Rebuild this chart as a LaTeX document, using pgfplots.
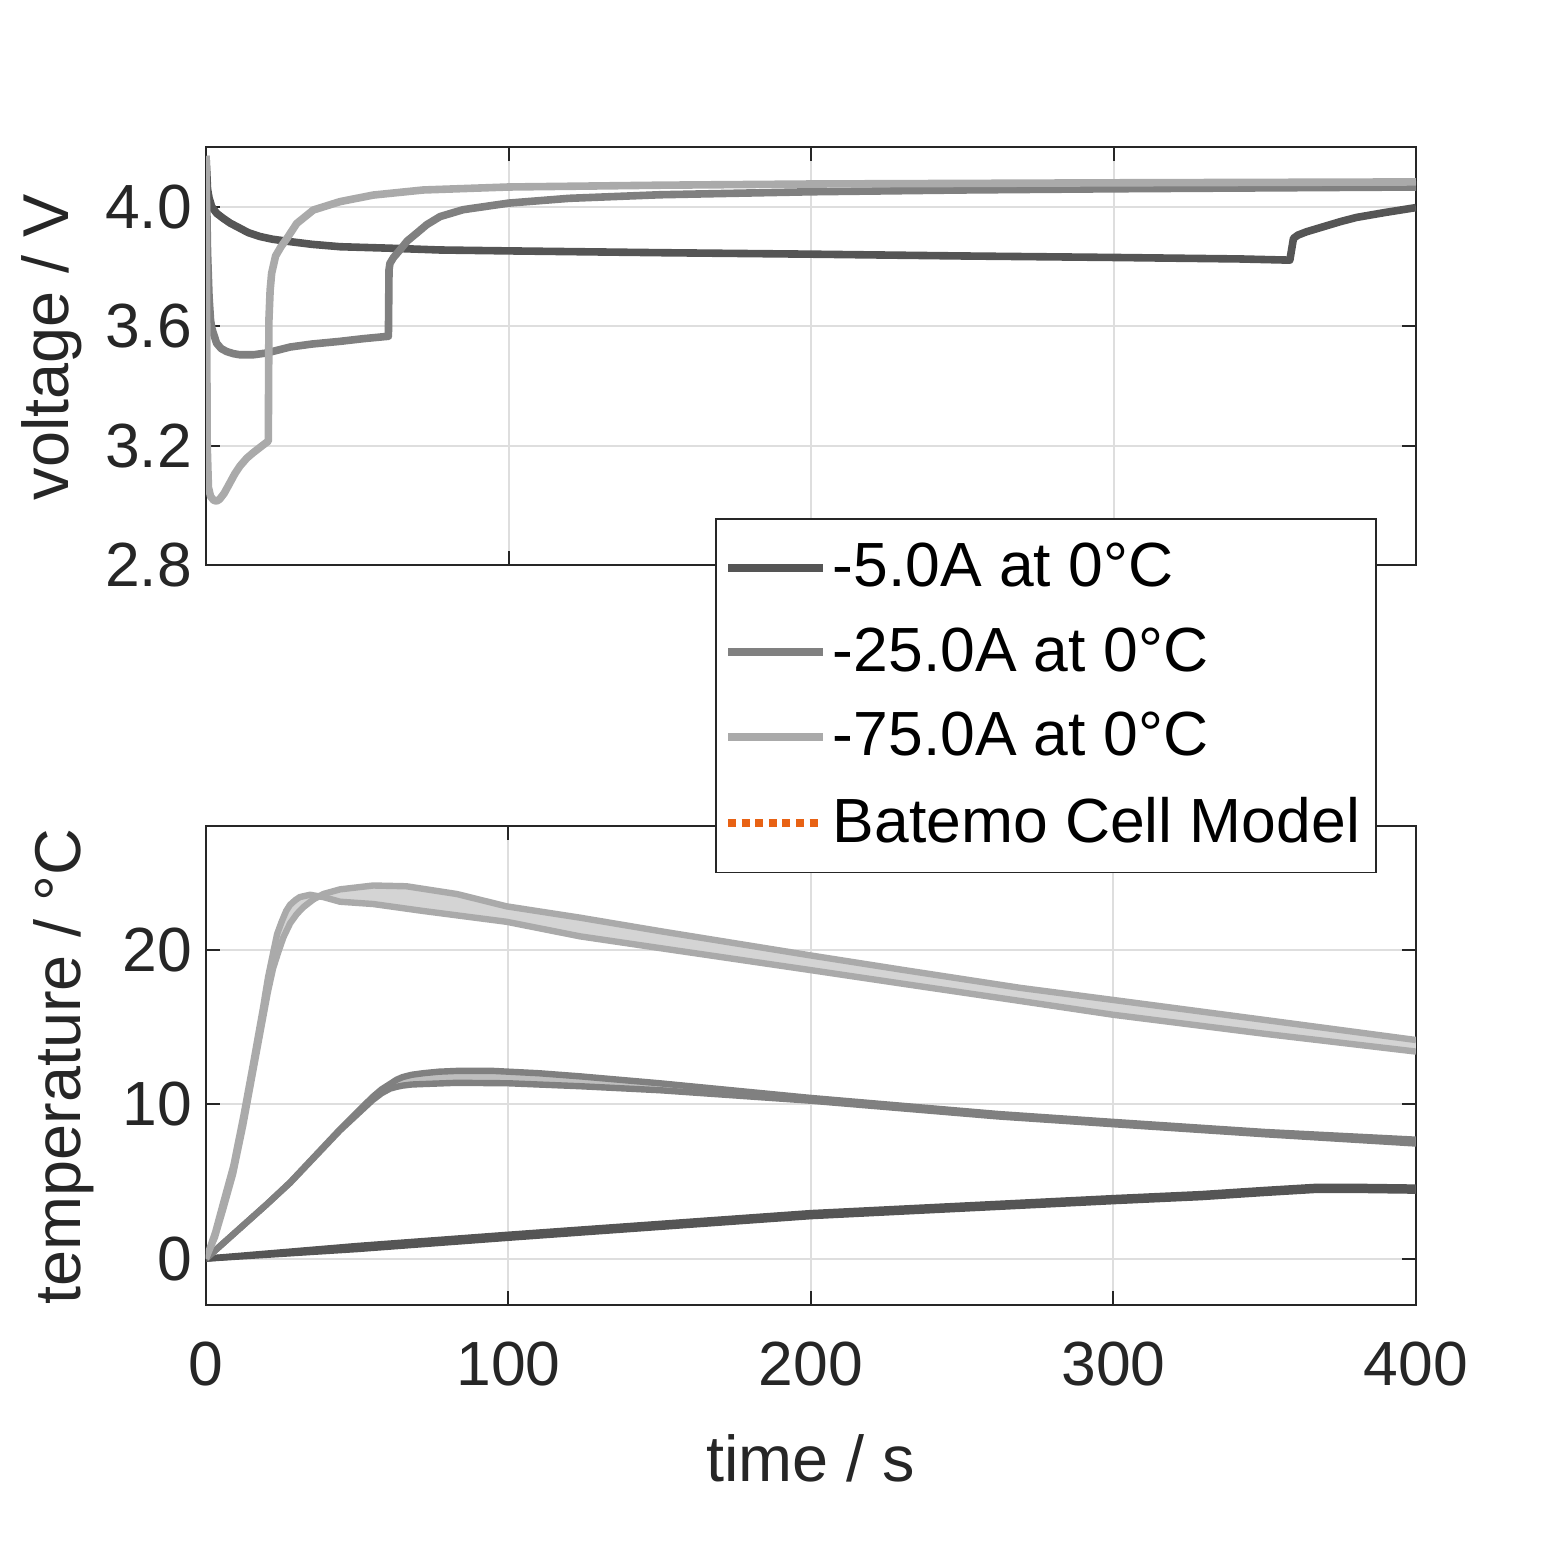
\documentclass[border=0pt]{standalone}
\usepackage{fontspec}
\setmainfont{Liberation Sans}
\usepackage{pgfplots}
\pgfplotsset{compat=1.18}
\usepackage{pgfplotstable}
\definecolor{cA}{RGB}{85,85,85}
\definecolor{cB}{RGB}{128,128,128}
\definecolor{cC}{RGB}{170,170,170}
\definecolor{fB}{RGB}{190,190,190}
\definecolor{fC}{RGB}{212,212,212}
\definecolor{ax}{RGB}{38,38,38}
\definecolor{gridc}{RGB}{222,222,222}
\definecolor{orng}{RGB}{232,98,20}

% voltage
\pgfplotstableread{
t V
0 4.17
0.5 4.06
1 4.03
1.9 4.00
3.5 3.978
5.7 3.961
8 3.945
11.2 3.928
14 3.913
17.9 3.900
22 3.891
27.8 3.883
35 3.874
44.3 3.866
60.8 3.861
77.4 3.855
100 3.852
150 3.846
200 3.841
250 3.835
300 3.830
341.8 3.825
358.3 3.821
359.5 3.894
361 3.905
363.8 3.916
369.4 3.933
375 3.950
380.3 3.964
390 3.981
400 3.997
}\voltA
\pgfplotstableread{
t V
0 4.17
0.5 3.85
1 3.70
1.5 3.62
2 3.59
3.5 3.543
5 3.525
6.8 3.515
9 3.508
11.2 3.504
15.6 3.504
20 3.510
27.8 3.530
35 3.540
44.3 3.549
52 3.558
60.3 3.566
60.5 3.788
60.8 3.810
62 3.830
64.1 3.855
66.5 3.885
69.6 3.911
73 3.940
77.4 3.967
85 3.990
100 4.012
120 4.028
150 4.040
200 4.050
250 4.056
300 4.060
350 4.063
400 4.066
}\voltB
\pgfplotstableread{
t V
0 4.17
0.4 3.20
0.8 3.06
1.5 3.030
2.5 3.017
3.5 3.014
4.5 3.020
6 3.040
7.9 3.075
9.5 3.105
11.2 3.131
13.5 3.158
15.6 3.176
18 3.195
20.6 3.215
20.8 3.620
21.2 3.720
21.7 3.777
23 3.835
24.8 3.866
26.7 3.893
30 3.944
35.5 3.989
44.3 4.017
55.3 4.039
71.8 4.056
100 4.066
150 4.072
200 4.076
300 4.080
400 4.083
}\voltC

% temperature
\pgfplotstableread{
t T
0 0
50 0.82
100 1.55
127 1.93
200 2.95
262 3.55
300 3.92
329 4.18
350 4.45
367 4.65
380 4.65
400 4.6
}\tempAa
\pgfplotstableread{
t T
0 0
50 0.62
100 1.35
127 1.73
200 2.75
262 3.35
300 3.72
329 3.98
350 4.25
367 4.45
380 4.45
400 4.4
}\tempAb
\pgfplotstableread{
t T
0 0
10 1.75
20 3.5
27.8 4.94
44.3 8.37
55 10.45
58 10.95
60.8 11.3
63 11.58
65 11.75
68 11.9
71.8 12.0
77 12.1
82.9 12.15
95 12.15
110 12.0
123.6 11.8
150 11.35
200 10.4
262 9.36
300 8.85
350 8.2
400 7.7
}\tempBa
\pgfplotstableread{
t T
0 0
10 1.75
20 3.5
27.8 4.9
44.3 8.3
55 10.25
58 10.7
60.8 11.0
63 11.12
65 11.2
68 11.27
71.8 11.3
82.9 11.38
100 11.35
123.6 11.16
150 10.9
200 10.22
262 9.2
300 8.7
350 8.05
400 7.45
}\tempBb
\pgfplotstableread{
t T
0 0
3 1.7
5.7 3.65
9 6.0
12.3 9.2
15.6 12.7
18.9 16.3
20.5 18.2
22.2 19.8
23.5 21.0
25 21.8
26.5 22.5
27.8 22.9
29.5 23.2
31 23.4
34.4 23.55
38.8 23.4
44.3 23.1
55.3 22.95
71.8 22.5
99.4 21.8
123.6 20.86
150 20.1
200 18.67
230 17.8
269 16.68
300 15.78
350 14.55
400 13.4
}\tempCa
\pgfplotstableread{
t T
0 0
3 1.4
5.7 3.2
9 5.5
12.3 8.6
15.6 12.1
18.9 15.6
20.5 17.3
22.2 18.8
24 19.9
25.6 20.8
27.8 21.7
30 22.3
32.2 22.75
35.5 23.25
38.8 23.6
44.3 23.9
55.3 24.15
66.3 24.1
82.9 23.6
99.4 22.8
123.6 22.07
150 21.2
200 19.62
230 18.7
269 17.53
300 16.74
350 15.45
400 14.15
}\tempCb

\pgfplotsset{
  mystyle/.style={
    scale only axis, width=302.5pt,
    xmin=0, xmax=400, xtick={0,100,200,300,400},
    axis line style={ax, line width=0.5pt},
    every tick/.style={ax, line width=0.5pt},
    major tick length=3.5pt,
    tick align=inside,
    grid=major, major grid style={gridc, line width=0.5pt},
    ticklabel style={font=\fontsize{15.6}{18}\selectfont, text=ax},
    label style={font=\fontsize{16.2}{19}\selectfont, text=ax},
    /pgf/number format/assume math mode=true,
  }
}

\begin{document}
\begin{tikzpicture}
\path[use as bounding box] (0,0) rectangle (390.75pt,390.75pt);

\begin{axis}[mystyle,
  at={(51.5pt,249.5pt)}, anchor=south west, height=104.5pt,
  ymin=2.8, ymax=4.2, ytick={2.8,3.2,3.6,4.0},
  yticklabel style={/pgf/number format/fixed, /pgf/number format/fixed zerofill, /pgf/number format/precision=1},
  xticklabels={},
  ylabel={voltage / V},
  ylabel style={at={(axis description cs:-0.1140,0.5215)}, anchor=base},
]
\addplot[cA, line width=1.9pt, line join=round] table[x=t,y=V] {\voltA};
\addplot[cB, line width=1.9pt, line join=round] table[x=t,y=V] {\voltB};
\addplot[cC, line width=1.9pt, line join=round] table[x=t,y=V] {\voltC};
\end{axis}

\begin{axis}[mystyle,
  at={(51.5pt,64.5pt)}, anchor=south west, height=119.75pt,
  ymin=-3, ymax=28, ytick={0,10,20},
  xticklabel style={yshift=-5.6pt},
  xlabel={time / s},
  xlabel style={at={(axis description cs:0.5,-0.369)}, anchor=base},
  ylabel={temperature / °C},
  ylabel style={at={(axis description cs:-0.1041,0.498)}, anchor=base},
  legend image code/.code={\draw[#1] (0pt,0pt) -- (23.7pt,0pt);},
  legend style={at={(axis description cs:0.4207,1.643)}, anchor=north west,
    draw=ax, fill=white, inner xsep=2.05pt, inner ysep=4.0pt,
    row sep=4.8pt, column sep=-0.5pt,
    font=\fontsize{15.6}{18}\selectfont, text=black},
  legend cell align=left,
]
% bands (upper line forward, lower line backward)
\addplot[fill=fB, draw=none, forget plot] coordinates {
(0,0) (10,1.75) (20,3.5) (27.8,4.94) (44.3,8.37) (55,10.45) (58,10.95) (60.8,11.3) (63,11.58) (65,11.75) (68,11.9) (71.8,12.0) (77,12.1) (82.9,12.15) (95,12.15) (110,12.0) (123.6,11.8) (150,11.35) (200,10.4) (262,9.36) (300,8.85) (350,8.2) (400,7.7)
(400,7.45) (350,8.05) (300,8.7) (262,9.2) (200,10.22) (150,10.9) (123.6,11.16) (100,11.35) (82.9,11.38) (71.8,11.3) (68,11.27) (65,11.2) (63,11.12) (60.8,11.0) (58,10.7) (55,10.25) (44.3,8.3) (27.8,4.9) (20,3.5) (10,1.75) (0,0)
} -- cycle;
\addplot[fill=fC, draw=none, forget plot] coordinates {
(0,0) (3,1.7) (5.7,3.65) (9,6.0) (12.3,9.2) (15.6,12.7) (18.9,16.3) (20.5,18.2) (22.2,19.8) (23.5,21.0) (25,21.8) (26.5,22.5) (27.8,22.9) (29.5,23.2) (31,23.4) (34.4,23.55) (38.8,23.4) (44.3,23.1) (55.3,22.95) (71.8,22.5) (99.4,21.8) (123.6,20.86) (150,20.1) (200,18.67) (230,17.8) (269,16.68) (300,15.78) (350,14.55) (400,13.4)
(400,14.15) (350,15.45) (300,16.74) (269,17.53) (230,18.7) (200,19.62) (150,21.2) (123.6,22.07) (99.4,22.8) (82.9,23.6) (66.3,24.1) (55.3,24.15) (44.3,23.9) (38.8,23.6) (35.5,23.25) (32.2,22.75) (30,22.3) (27.8,21.7) (25.6,20.8) (24,19.9) (22.2,18.8) (20.5,17.3) (18.9,15.6) (15.6,12.1) (12.3,8.6) (9,5.5) (5.7,3.2) (3,1.4) (0,0)
} -- cycle;

\addplot[cA, line width=1.6pt, line join=round, forget plot] table[x=t,y=T] {\tempAa};
\addplot[cA, line width=1.6pt, line join=round, forget plot] table[x=t,y=T] {\tempAb};
\addplot[cB, line width=1.6pt, line join=round, forget plot] table[x=t,y=T] {\tempBa};
\addplot[cB, line width=1.6pt, line join=round, forget plot] table[x=t,y=T] {\tempBb};
\addplot[cC, line width=1.6pt, line join=round, forget plot] table[x=t,y=T] {\tempCa};
\addplot[cC, line width=1.6pt, line join=round, forget plot] table[x=t,y=T] {\tempCb};

\addlegendimage{cA, line width=2pt}
\addlegendentry{-5.0A at 0°C}
\addlegendimage{cB, line width=2pt}
\addlegendentry{-25.0A at 0°C}
\addlegendimage{cC, line width=2pt}
\addlegendentry{-75.0A at 0°C}
\addlegendimage{orng, line width=2pt, dash pattern=on 2pt off 1.4pt}
\addlegendentry{Batemo Cell Model}
\end{axis}
\end{tikzpicture}
\end{document}
